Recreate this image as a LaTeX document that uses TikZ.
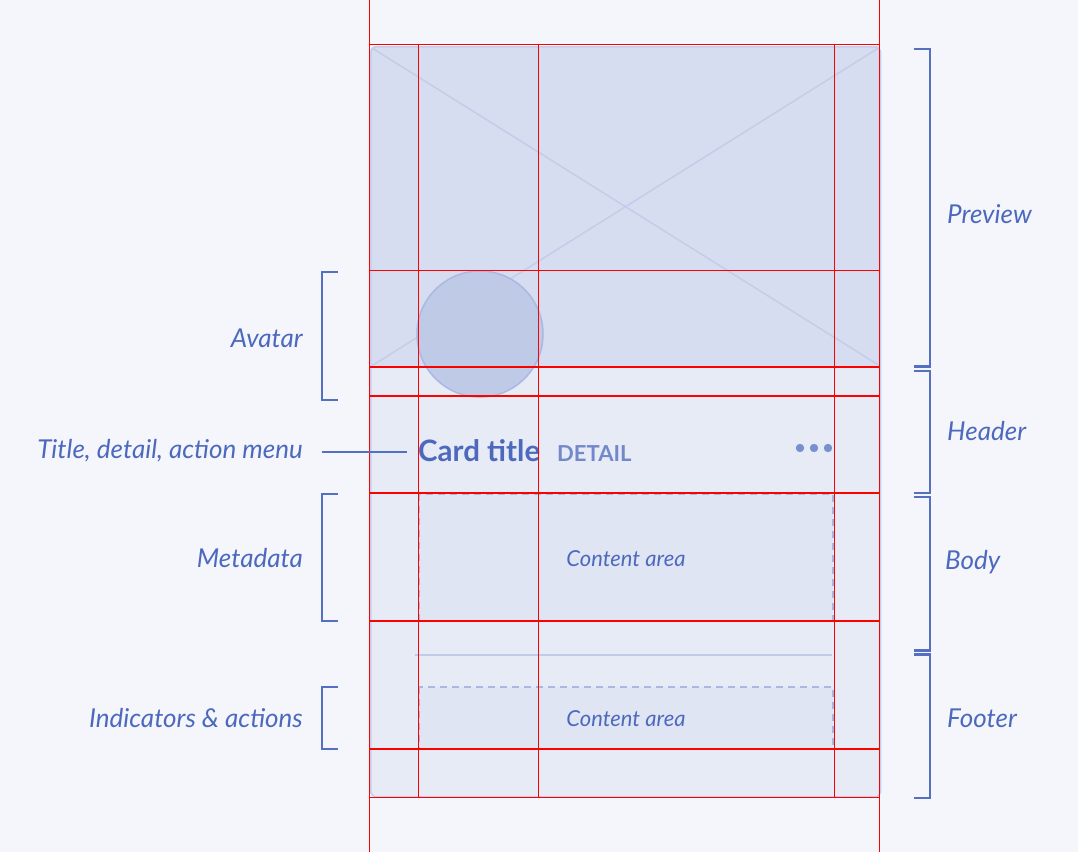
\documentclass[tikz,border=0pt]{standalone}
\usepackage{fontspec}
\setmainfont{Lato}
\definecolor{bg}{HTML}{F4F6FB}
\definecolor{prevfill}{HTML}{D7DDF0}
\definecolor{cardfill}{HTML}{E7EBF6}
\definecolor{areafill}{HTML}{DFE5F3}
\definecolor{cardborder}{HTML}{C5CEEB}
\definecolor{diag}{HTML}{C3CDEA}
\definecolor{avfill}{HTML}{BFCAE7}
\definecolor{avdraw}{HTML}{A9B9E3}
\definecolor{txt}{HTML}{4D69BE}
\definecolor{brk}{HTML}{5470C2}
\definecolor{dash}{HTML}{A9B8E0}
\definecolor{detail}{HTML}{7388C9}
\definecolor{dots}{HTML}{7890CF}
\definecolor{fline}{HTML}{C0CBE8}
\tikzset{
  lbl/.style={inner sep=0pt, text=txt, font=\itshape\fontsize{26}{30}\selectfont},
  arealbl/.style={inner sep=0pt, text=txt, font=\itshape\fontsize{22}{26}\selectfont},
  bracket/.style={draw=brk, line width=2.2pt},
  gridthin/.style={draw=red, line width=1.1pt},
  gridthick/.style={draw=red, line width=2.2pt},
  dasharea/.style={fill=areafill, draw=dash, line width=2pt, dash pattern=on 7pt off 5pt},
}
\begin{document}
\begin{tikzpicture}[x=1pt,y=-1pt]
\useasboundingbox (0,0) rectangle (1078,852);
\fill[bg] (0,0) rectangle (1078,852);
% card
\fill[cardfill, rounded corners=6pt] (370,46) rectangle (881,797);
\begin{scope}
  \clip[rounded corners=6pt] (370,46) rectangle (881,797);
  \fill[prevfill] (370,46) rectangle (881,367);
  \draw[diag, line width=1.5pt] (372,48) -- (880,366);
  \draw[diag, line width=1.5pt] (370,367) -- (880,47);
\end{scope}
\draw[cardborder, line width=1.6pt, rounded corners=6pt] (370.8,46.8) rectangle (880.5,797);
% avatar
\node[circle, minimum size=126pt, inner sep=0pt, fill=avfill, draw=avdraw, line width=1.5pt] (avatar) at (480,334) {};
% content areas
\path[dasharea] (419,494) rectangle (833,621);
\path[dasharea] (419,687) rectangle (833,749);
\draw[fline, line width=2pt] (415,655) -- (832,655);
% texts in card
\node[inner sep=0pt, anchor=base west, text=txt, font=\bfseries\fontsize{29.5}{33}\selectfont] (cardtitle) at (418,461) {Card ti\kern0pt tle};
\node[inner sep=0pt, anchor=base west, text=detail, font=\bfseries\fontsize{22}{26}\selectfont] (detail) at (557,461) {DETAIL};
\foreach \xx/\nm in {800/d1,814/d2,828/d3} \fill[dots] (\xx,448) circle (4.2pt);
\node[arealbl, anchor=base] (ca1) at (626,566) {Content area};
\node[arealbl, anchor=base] (ca2) at (626,726) {Content area};
% red grid
\draw[gridthin] (369.5,0) -- (369.5,852);
\draw[gridthin] (879.5,0) -- (879.5,852);
\draw[gridthin] (369,44.5) -- (880,44.5);
\draw[gridthin] (369,270.5) -- (880,270.5);
\draw[gridthin] (369,797.5) -- (880,797.5);
\foreach \yy in {367,396,493,621,749} \draw[gridthick] (369,\yy) -- (880,\yy);
\foreach \xx in {418.5,538.5,834.5} \draw[gridthin] (\xx,44.5) -- (\xx,797.5);
% right brackets
\draw[bracket] (914,49) -- (930,49) -- (930,366.5) -- (914,366.5);
\draw[bracket] (914,371) -- (930,371) -- (930,493) -- (914,493);
\draw[bracket] (914,497) -- (930,497) -- (930,650.5) -- (914,650.5);
\draw[bracket] (914,654.5) -- (930,654.5) -- (930,798) -- (914,798);
\node[lbl, anchor=base west] (preview) at (947,223) {Preview};
\node[lbl, anchor=base west] (header) at (947,440) {Header};
\node[lbl, anchor=base west] (body) at (945,569) {Body};
\node[lbl, anchor=base west] (footer) at (947,727) {Footer};
% left brackets
\draw[bracket] (338,272) -- (322,272) -- (322,400) -- (338,400);
\draw[bracket] (338,494) -- (322,494) -- (322,621) -- (338,621);
\draw[bracket] (338,687) -- (322,687) -- (322,749) -- (338,749);
\node[lbl, anchor=base east] (avlbl) at (303,347) {Avatar};
\node[lbl, anchor=base east] (titlelbl) at (303,458) {Title, detail, action menu};
\node[lbl, anchor=base east] (metalbl) at (303,567) {Metadata};
\node[lbl, anchor=base east] (indlbl) at (303,727) {Indicators \& actions};
\coordinate (tstart) at (322,452);
\coordinate (tend) at (407,452);
\draw[brk, line width=1.2pt] (tstart) -- (tend);
\end{tikzpicture}
\end{document}
